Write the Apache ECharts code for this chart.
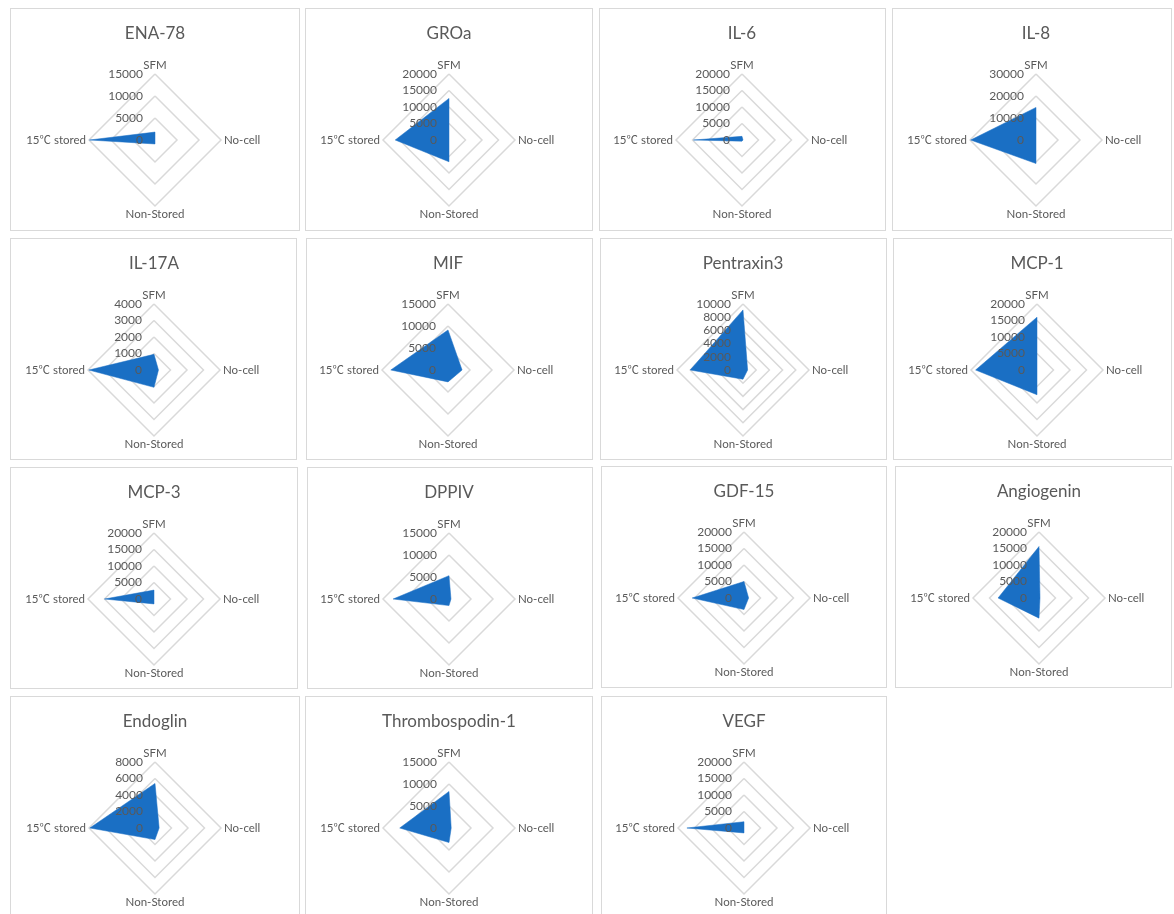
<!DOCTYPE html>
<html>
<head>
<meta charset="utf-8">
<script src="https://cdn.jsdelivr.net/npm/echarts@6/dist/echarts.min.js"></script>
<style>
  html, body { margin: 0; padding: 0; background: #ffffff; width: 1174px; height: 914px; overflow: hidden; }
  .panel { position: absolute; box-sizing: border-box; border: 1px solid #d9d9d9; background: #fff; }
</style>
</head>
<body>
<script>
// ---- data ----
const titles = ['ENA-78', 'GROa', 'IL-6', 'IL-8',
                'IL-17A', 'MIF', 'Pentraxin3', 'MCP-1',
                'MCP-3', 'DPPIV', 'GDF-15', 'Angiogenin',
                'Endoglin', 'Thrombospodin-1', 'VEGF'];
const axisNames = ['SFM', 'No-cell', 'Non-Stored', '15\u2103 stored'];
const sfm       = [1800, 12600, 1100, 14800,  950, 9100, 9100, 16000, 2700, 5300, 5000, 15600, 5400, 8300, 1900];
const noCell    = [   0,     0,  300,     0,  270, 3200,  700,     0,    0,  450, 1400,   300,  500,  500,    0];
const nonStored = [ 900,  6600,  350, 10700, 1050, 2700, 1400,  7500, 1500, 1500, 3500,  6100, 1400, 3300, 1500];
const stored15  = [14900, 16300, 14700, 29700, 3950, 13000, 8000, 18600, 15000, 12700, 15700, 12400, 7900, 11200, 17300];
const axisMax   = [15000, 20000, 20000, 30000, 4000, 15000, 10000, 20000, 20000, 15000, 20000, 20000, 8000, 15000, 20000];
const tickStep  = [5000, 5000, 5000, 10000, 1000, 5000, 2000, 5000, 5000, 5000, 5000, 5000, 2000, 5000, 5000];

// ---- layout (panel boxes: left, top, width, height; chart centre x) ----
const layout = [
  [10, 8, 290, 223, 155], [305, 8, 288, 223, 449], [599, 8, 287, 223, 742], [892, 8, 280, 223, 1036],
  [10, 238, 287, 222, 154], [306, 238, 287, 222, 448], [600, 238, 287, 222, 743], [893, 238, 279, 222, 1037],
  [10, 467, 288, 222, 154], [307, 467, 286, 222, 449], [601, 466, 286, 222, 744], [895, 466, 277, 222, 1039],
  [10, 696, 290, 230, 155], [305, 696, 288, 230, 449], [601, 696, 286, 230, 744]
];

const FONT = 'Lato, "Noto Sans CJK SC", "Open Sans", sans-serif';
const CJK = '"Noto Sans CJK SC", sans-serif';
const TXT = '#595959';
const FILL = '#1a6fc4';

titles.forEach(function (t, i) {
  const L = layout[i];
  const div = document.createElement('div');
  div.className = 'panel';
  div.style.left = L[0] + 'px';
  div.style.top = L[1] + 'px';
  div.style.width = L[2] + 'px';
  div.style.height = L[3] + 'px';
  document.body.appendChild(div);
  const chart = echarts.init(div, null, { renderer: 'canvas' });
  const max = axisMax[i];
  const splits = Math.round(max / tickStep[i]);
  const cx = L[4] - L[0] - 1;
  const common = {
    center: [cx, 131],
    radius: 66,
    startAngle: 90,
    shape: 'polygon',
    splitNumber: splits,
    axisLine: { show: false },
    axisTick: { show: false },
    splitArea: { show: false }
  };
  chart.setOption({
    animation: false,
    title: {
      text: t,
      left: cx,
      textAlign: 'center',
      top: 16,
      padding: 0,
      textStyle: { fontFamily: FONT, fontSize: 17, fontWeight: 'normal', color: TXT }
    },
    radar: [
      Object.assign({}, common, {
        z: 0,
        nameGap: 3,
        axisName: {
          color: TXT, fontFamily: FONT, fontSize: 11.5,
          formatter: function (name) { return name.replace('\u2103', '{c|\u2103}'); },
          rich: { c: { fontFamily: CJK, fontSize: 11.5, color: TXT } }
        },
        indicator: [
          { name: axisNames[0], min: 0, max: max },
          { name: axisNames[3], min: 0, max: max },
          { name: axisNames[2], min: 0, max: max },
          { name: axisNames[1], min: 0, max: max }
        ],
        splitLine: { lineStyle: { color: '#d9d9d9', width: 1.5 } },
        axisLabel: { show: false }
      }),
      Object.assign({}, common, {
        z: 10,
        axisName: { show: false },
        indicator: [
          { name: axisNames[0], min: 0, max: max, axisLabel: { show: true } },
          { name: axisNames[3], min: 0, max: max },
          { name: axisNames[2], min: 0, max: max },
          { name: axisNames[1], min: 0, max: max }
        ],
        splitLine: { show: false },
        axisLabel: {
          show: false,
          margin: 12,
          color: TXT,
          fontFamily: FONT,
          fontSize: 12,
          formatter: function (v) { return String(v); }
        }
      })
    ],
    series: [{
      type: 'radar',
      radarIndex: 0,
      z: 2,
      symbol: 'none',
      silent: true,
      lineStyle: { width: 0.5, color: FILL },
      areaStyle: { color: FILL, opacity: 1 },
      data: [{ value: [sfm[i], stored15[i], nonStored[i], noCell[i]] }]
    }]
  });
});
</script>
</body>
</html>
